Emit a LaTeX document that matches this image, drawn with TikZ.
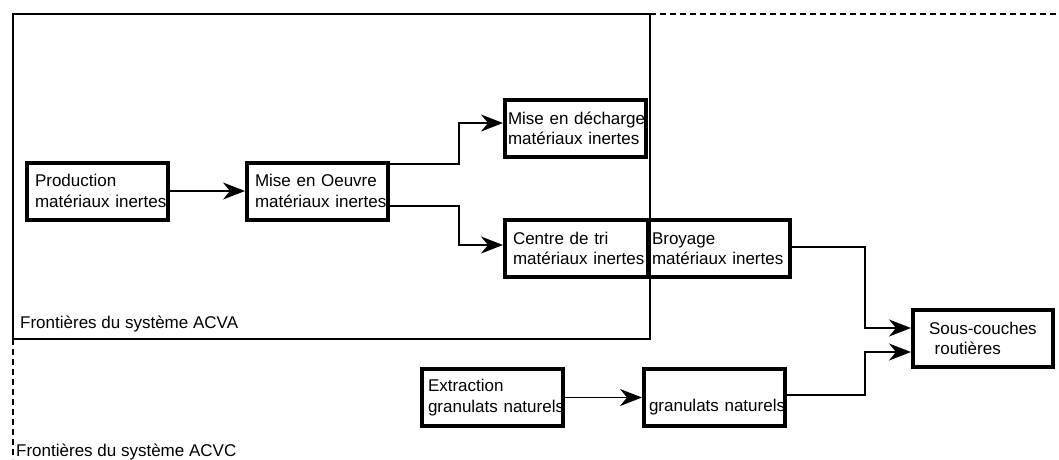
\documentclass[tikz,border=0pt]{standalone}
\usepackage{fontspec}
\setmainfont{Liberation Sans}
\usetikzlibrary{arrows.meta, positioning, calc}

\tikzset{
   procbox/.style={draw, line width=4pt, minimum width=141pt, minimum height=57pt,
      align=left, inner ysep=0pt, font=\fontsize{17}{20.5}\selectfont,
      execute at begin node={\hyphenpenalty=10000\exhyphenpenalty=10000}},
   flow/.style={line width=1.4pt, -{Stealth[length=22pt, width=17pt, inset=7pt]}},
   frontier/.style={line width=1.2pt},
   frontierlabel/.style={anchor=base west, inner sep=0pt, font=\fontsize{17}{20.5}\selectfont}
}

\begin{document}
\begin{tikzpicture}[x=1pt, y=-1pt]
      \useasboundingbox (0,0) rectangle (1059,459);
      % System boundaries
      \draw[frontier] (13,14) rectangle (650,339);
      \draw[frontier, dash pattern=on 6pt off 4pt] (650,14) -- (1059,14);
      \draw[frontier, dash pattern=on 6pt off 4pt] (13,339) -- (13,459);
      \node[frontierlabel] (acva) at (20,328) {Frontières du système ACVA};
      \node[frontierlabel] (acvc) at (16,456) {Frontières du système ACVC};
      % Inert materials chain
      \node[procbox, inner xsep=8pt, text width=125pt] (prod) at (97.5,191)
         {Production\\matériaux~inertes};
      \node[procbox, inner xsep=8pt, text width=125pt] (oeuvre) at (317.5,191)
         {Mise en Oeuvre\\matériaux~inertes};
      \node[procbox, inner xsep=3pt, text width=135pt] (decharge) at (575.5,128.5)
         {Mise~en~décharge\\matériaux~inertes};
      \node[procbox, minimum width=143pt, inner xsep=8pt, text width=127pt] (tri) at (576.5,248.5)
         {Centre de tri\\matériaux~inertes};
      \node[procbox, minimum width=142pt, inner xsep=4pt, text width=134pt] (broyage) at (719,248.5)
         {Broyage\\matériaux~inertes};
      % Natural aggregates chain
      \node[procbox, inner xsep=6pt, text width=129pt] (extr) at (492.5,397.5)
         {Extraction\\granulats~naturels};
      \node[procbox, inner xsep=5pt, text width=131pt, text height=32pt, text depth=3.6pt] (gran) at (714.5,397.5)
         {granulats~naturels};
      \node[procbox, minimum width=140pt, inner xsep=16pt, text width=108pt] (sous) at (983,338.5)
         {Sous-couches\\\ routières};
      % Flows
      \draw[flow] (prod) -- (oeuvre);
      \draw[flow] ([yshift=27pt]oeuvre.east) -- ++(69,0) |- ([yshift=5.5pt]decharge.west);
      \draw[flow] ([yshift=-15pt]oeuvre.east) -- ++(69,0) |- ([yshift=3.5pt]tri.west);
      \draw[flow] ([yshift=1.5pt]broyage.east) -- ++(73,0) |- ([yshift=10.5pt]sous.west);
      \draw[flow] (extr) -- (gran);
      \draw[flow] ([yshift=2.5pt]gran.east) -- ++(78,0) |- ([yshift=-13.5pt]sous.west);
\end{tikzpicture}
\end{document}
